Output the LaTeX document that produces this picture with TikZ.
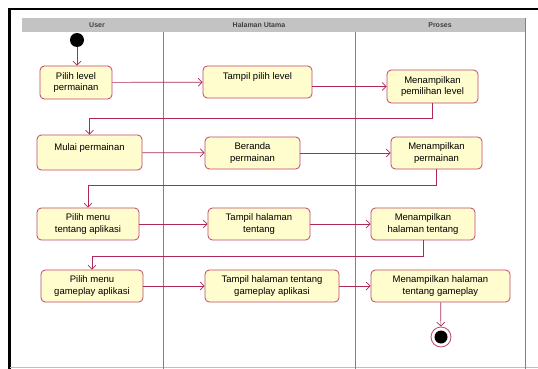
\documentclass[tikz,border=0pt]{standalone}
\usepackage{fontspec}
\setmainfont{Liberation Sans}
\usetikzlibrary{arrows.meta}

\definecolor{actfill}{RGB}{255,252,205}
\definecolor{actline}{RGB}{190,70,110}
\definecolor{flowline}{RGB}{175,40,90}
\definecolor{laneline}{RGB}{200,90,140}
\definecolor{headgray}{RGB}{195,195,195}

\begin{document}
\begin{tikzpicture}[x=1pt, y=-1pt,
    act/.style={rectangle, draw=actline, fill=actfill, rounded corners=1.5mm,
        line width=0.8pt, align=center, inner sep=1pt,
        font=\fontsize{9.5}{11.5}\selectfont},
    flow/.style={draw=flowline, line width=0.7pt,
        -{Straight Barb[length=4pt, width=8pt]}},
    lane/.style={draw=laneline, line width=1pt},
    lanehead/.style={font=\fontsize{7}{8}\selectfont\bfseries, text=black!75}
]
\useasboundingbox (0,0) rectangle (538,369);

% frame
\draw[line width=2.5pt] (8,9) -- (538,9);
\draw[line width=2.5pt] (9.5,8) -- (9.5,369);
\draw[black!25, line width=1.5pt] (10,367.5) -- (538,367.5);

% swimlanes
\fill[headgray] (22,18) rectangle (525,32);
\node[lanehead] (hUser) at (97,25) {User};
\node[lanehead] (hHalaman) at (259,25) {Halaman Utama};
\node[lanehead] (hProses) at (440,25) {Proses};
\draw[lane] (163,32) -- (163,369);
\draw[lane] (355,32) -- (355,369);
\draw[lane] (525,18) -- (525,369);

% activities
\node[circle, fill=black, minimum size=14pt, inner sep=0pt] (start) at (77,40) {};

\node[act, minimum width=72pt, minimum height=33pt] (b1) at (76,82.5) {Pilih level\\permainan};
\node[act, minimum width=109pt, minimum height=32pt] (b2) at (257.5,82) {Tampil pilih level\\~};
\node[act, minimum width=91pt, minimum height=33pt] (b3) at (432.5,86.5) {Menampilkan\\pemilihan level};

\node[act, minimum width=105pt, minimum height=35pt] (b4) at (89.5,152.5) {Mulai permainan\\~};
\node[act, minimum width=95pt, minimum height=32pt] (b5) at (252.5,153) {Beranda\\permainan};
\node[act, minimum width=91pt, minimum height=32pt] (b6) at (436.5,153) {Menampilkan\\permainan};

\node[act, minimum width=102pt, minimum height=32pt] (b7) at (88,224) {Pilih menu\\tentang aplikasi};
\node[act, minimum width=102pt, minimum height=32pt] (b8) at (259,224) {Tampil halaman\\tentang};
\node[act, minimum width=104pt, minimum height=32pt] (b9) at (423,224) {Menampilkan\\halaman tentang};

\node[act, minimum width=102pt, minimum height=32pt] (b10) at (92,286) {Pilih menu\\gameplay aplikasi};
\node[act, minimum width=134pt, minimum height=32pt] (b11) at (272,286) {Tampil halaman tentang\\gameplay aplikasi};
\node[act, minimum width=139pt, minimum height=32pt] (b12) at (440.5,286) {Menampilkan halaman\\tentang gameplay};

\node[circle, draw=actline, fill=white, line width=0.8pt, minimum size=20pt, inner sep=0pt] (end) at (441,337) {};
\node[circle, fill=black, minimum size=13pt, inner sep=0pt] (endDot) at (end) {};

% flows
\draw[flow] (start) -- (start |- b1.north);
\draw[flow] (b1) -- (b2);
\draw[flow] (b2.east |- b3.west) -- (b3.west);
\draw[flow] (b3.south) -- ++(0,15) -| (b4.north);
\draw[flow] (b4) -- (b5);
\draw[flow] (b5) -- (b6);
\draw[flow] (b6.south) -- ++(0,16) -| (b7.north);
\draw[flow] (b7) -- (b8);
\draw[flow] (b8) -- (b9);
\draw[flow] (b9.south) -- ++(0,16) -| (b10.north);
\draw[flow] (b10) -- (b11);
\draw[flow] (b11) -- (b12);
\draw[flow] (b12) -- (end);

\end{tikzpicture}
\end{document}
